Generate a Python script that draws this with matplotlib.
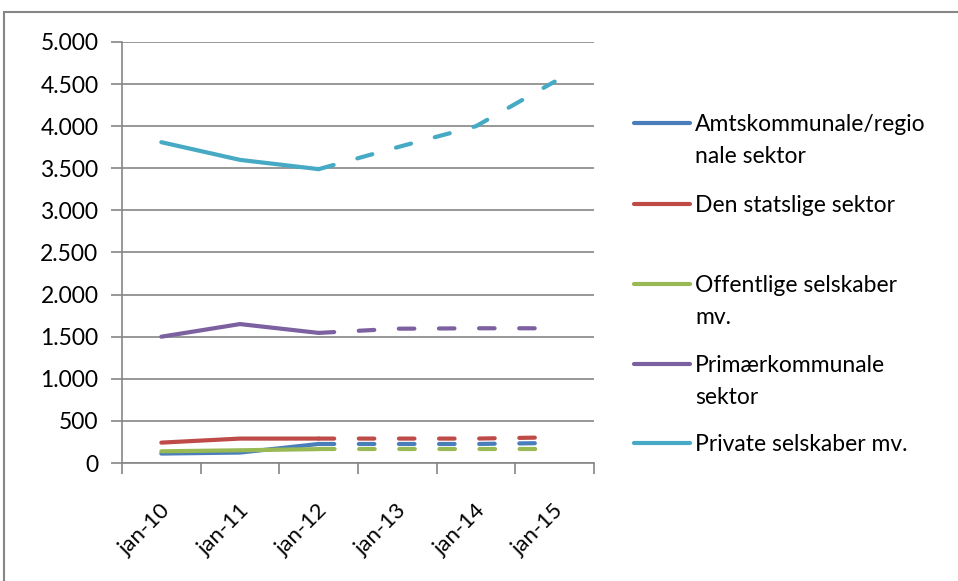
import numpy as np
import matplotlib
matplotlib.use("Agg")
import matplotlib.pyplot as plt
import matplotlib.transforms as mtransforms
from matplotlib.lines import Line2D
from matplotlib.patches import Rectangle
from matplotlib.ticker import FuncFormatter, FixedLocator

# ── dati ─────────────────────────────────────────────────────
months = ["jan-10", "jan-11", "jan-12", "jan-13", "jan-14", "jan-15"]
amt      = [112, 124, 226, 226, 226, 238]
stat     = [242, 290, 290, 290, 290, 305]
offentl  = [139, 151, 165, 165, 165, 165]
primaer  = [1500, 1650, 1545, 1595, 1600, 1600]
private  = [3810, 3600, 3490, 3750, 4000, 4530]

labels = ["Amtskommunale/regio\nnale sektor", "Den statslige sektor",
          "Offentlige selskaber\nmv.", "Primærkommunale\nsektor",
          "Private selskaber mv."]
colors = ["#4A7EBB", "#BE4B48", "#98B954", "#7D60A0", "#46AAC5"]
series = [amt, stat, offentl, primaer, private]
SPLIT = 2   # ultimo punto osservato (jan-12), poi prognose tratteggiata
# ────────────────────────────────────────────────────────────

plt.rcParams['font.family'] = ['Lato', 'DejaVu Sans']
FS = 16.5
W, H = 958, 581
fig = plt.figure(figsize=(W / 100, H / 100), dpi=100)
ax = fig.add_axes([122 / W, 1 - 463 / H, (594 - 122) / W, (463 - 42) / H])

x = np.arange(len(months))
LW = 3.0
for vals, c in zip(series, colors):
    v = np.array(vals)
    ax.plot(x[:SPLIT + 1], v[:SPLIT + 1], color=c, lw=LW,
            solid_capstyle='round', solid_joinstyle='round', zorder=3)
    ax.plot(x[SPLIT:], v[SPLIT:], color=c, lw=LW, dashes=(3.73, 5.9),
            dash_capstyle='round', zorder=3)

ax.set_xlim(-0.5, len(months) - 0.5)
ax.set_ylim(0, 5000)
ax.set_yticks(np.arange(0, 5001, 500))
ax.yaxis.set_major_formatter(FuncFormatter(lambda v, p: f"{int(v):,}".replace(",", ".")))
ax.grid(axis='y', color='#868686', lw=1.2)
ax.set_axisbelow(True)

ax.set_xticks(x)
ax.set_xticklabels(months, rotation=45, ha='right', va='top', rotation_mode='anchor')
ax.xaxis.set_minor_locator(FixedLocator(np.arange(-0.5, len(months), 1)))
ax.tick_params(axis='x', which='major', length=0, pad=27, labelsize=16)
ax.tick_params(axis='x', which='minor', length=8, width=1.2, color='#868686', direction='out')
ax.tick_params(axis='y', length=8, width=1.2, color='#868686', labelsize=FS, pad=9)
shift = mtransforms.ScaledTranslation(-0.01, 0, fig.dpi_scale_trans)
for t in ax.get_xticklabels():
    t.set_transform(t.get_transform() + shift)

for s in ['top', 'right']:
    ax.spines[s].set_visible(False)
for s in ['left', 'bottom']:
    ax.spines[s].set_color('#868686')
    ax.spines[s].set_linewidth(1.2)

# legenda a mano (spaziatura uniforme come Excel)
leg_y = [123, 204, 284, 364, 443]
cap_half = 0.36 * FS / 72 * 100
for lab, c, yy in zip(labels, colors, leg_y):
    fy = 1 - yy / H
    fig.add_artist(Line2D([634 / W, 690 / W], [fy, fy], color=c, lw=LW,
                          solid_capstyle='round', transform=fig.transFigure))
    for i, ln in enumerate(lab.split("\n")):
        fig.text(695 / W, 1 - (yy + i * 32 + cap_half) / H, ln, fontsize=FS,
                 va='baseline', ha='left')

# cornice
fig.add_artist(Rectangle((4 / W, -0.1), 1.2, 1 - 12 / H + 0.1, transform=fig.transFigure,
                         fill=False, edgecolor='#868686', lw=1.5))

fig.savefig("out.png", dpi=100)
